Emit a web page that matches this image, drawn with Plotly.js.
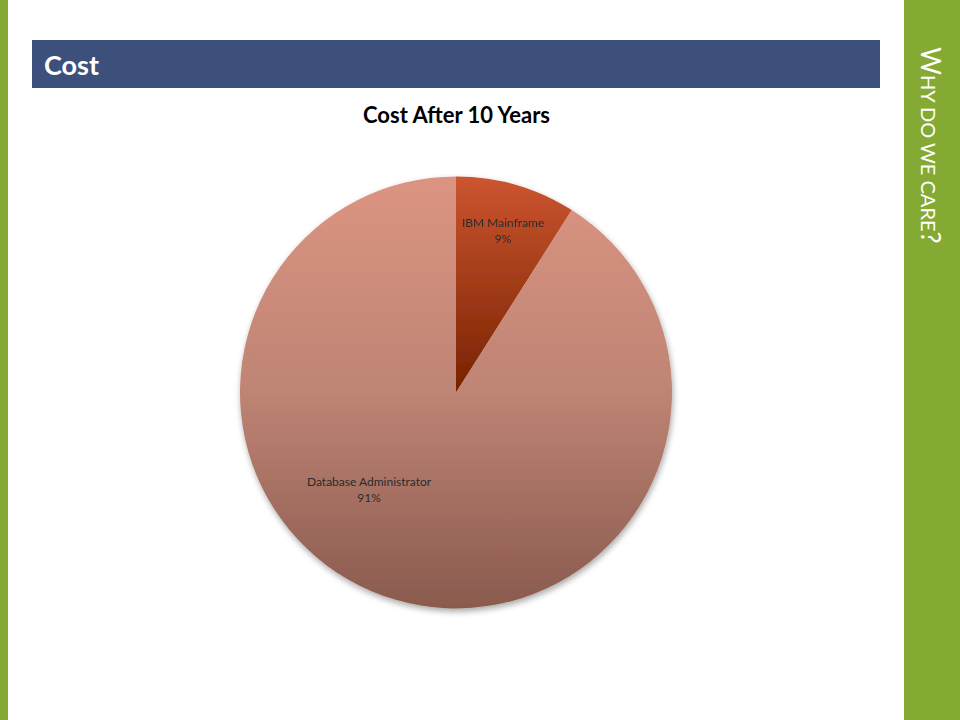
<!DOCTYPE html>
<html>
<head>
<meta charset="utf-8">
<script src="https://cdn.plot.ly/plotly-3.0.1.min.js"></script>
<style>
html,body{margin:0;padding:0;background:#fff;}
#chart{width:960px;height:720px;}
</style>
</head>
<body>
<div id="chart"></div>
<script>
const categories = ["IBM Mainframe", "Database Administrator"];
const costShare = [9, 91];
const sliceColors = ["#A8401C", "#B47A6A"];
const chartTitle = "Cost After 10 Years";
const slideTitle = "Cost";
const sideText = "W<span style='font-size:20px'>HY DO WE CARE</span>?";

const total = costShare.reduce(function(a, b){ return a + b; }, 0);
const labelFont = {family: "Lato, 'Open Sans', sans-serif", size: 12, color: "#2b2b2b"};

const trace = {
  type: "pie",
  labels: categories,
  values: costShare,
  sort: false,
  direction: "clockwise",
  rotation: 0,
  texttemplate: "%{label}<br>%{percent:.0%}",
  textposition: ["inside", "none"],
  insidetextorientation: "horizontal",
  textfont: labelFont,
  marker: {colors: sliceColors, line: {width: 0}},
  domain: {x: [0.25, 0.70], y: [0.155, 0.755]},
  showlegend: false,
  hoverinfo: "none"
};

const layout = {
  width: 960, height: 720,
  margin: {l: 0, r: 0, t: 0, b: 0},
  paper_bgcolor: "#ffffff",
  showlegend: false,
  shapes: [
    {type: "rect", xref: "paper", yref: "paper", x0: 0, x1: 8/960, y0: 0, y1: 1, fillcolor: "#84AA33", line: {width: 0}, layer: "below"},
    {type: "rect", xref: "paper", yref: "paper", x0: 904/960, x1: 1, y0: 0, y1: 1, fillcolor: "#84AA33", line: {width: 0}, layer: "below"},
    {type: "rect", xref: "paper", yref: "paper", x0: 32/960, x1: 880/960, y0: 1 - 88/720, y1: 1 - 40/720, fillcolor: "#3D4F7B", line: {width: 0}, layer: "below"}
  ],
  annotations: [
    {xref: "paper", yref: "paper", x: 42/960, y: 1 - 64/720, xanchor: "left", yanchor: "middle", showarrow: false,
     text: "<b>" + slideTitle + "</b>", font: {family: "Lato, 'Open Sans', sans-serif", size: 27, color: "#ffffff"}},
    {xref: "paper", yref: "paper", x: 456/960, y: 1 - 114/720, xanchor: "center", yanchor: "middle", showarrow: false,
     text: "<b>" + chartTitle + "</b>", font: {family: "Lato, 'Open Sans', sans-serif", size: 22, color: "#000000"}},
    {xref: "paper", yref: "paper", x: 931/960, y: 1 - 145/720, xanchor: "center", yanchor: "middle", showarrow: false,
     textangle: 90, text: sideText, font: {family: "Lato, 'Open Sans', sans-serif", size: 27, color: "#ffffff"}},
    {xref: "paper", yref: "paper", x: 369/960, y: 1 - 489/720, xanchor: "center", yanchor: "middle", showarrow: false,
     text: categories[1] + "<br>" + Math.round(costShare[1] / total * 100) + "%", font: labelFont}
  ]
};

Plotly.newPlot("chart", [trace], layout, {staticPlot: true, displayModeBar: false}).then(function(gd){
  const svg = gd.querySelector("svg.main-svg");
  const NS = "http://www.w3.org/2000/svg";
  let defs = svg.querySelector("defs");
  if (!defs) { defs = document.createElementNS(NS, "defs"); svg.insertBefore(defs, svg.firstChild); }
  const grads = [
    {id: "gSmall", stops: [["0", "#CC5530"], ["1", "#772200"]]},
    {id: "gBig", stops: [["0", "#DC9482"], ["0.5", "#BE8474"], ["1", "#8A5A4E"]]}
  ];
  grads.forEach(function(g){
    const lg = document.createElementNS(NS, "linearGradient");
    lg.setAttribute("id", g.id);
    lg.setAttribute("x1", "0"); lg.setAttribute("y1", "0");
    lg.setAttribute("x2", "0"); lg.setAttribute("y2", "1");
    g.stops.forEach(function(s){
      const st = document.createElementNS(NS, "stop");
      st.setAttribute("offset", s[0]);
      st.setAttribute("stop-color", s[1]);
      lg.appendChild(st);
    });
    defs.appendChild(lg);
  });
  const f = document.createElementNS(NS, "filter");
  f.setAttribute("id", "pieShadow");
  f.setAttribute("x", "-10%"); f.setAttribute("y", "-10%");
  f.setAttribute("width", "130%"); f.setAttribute("height", "130%");
  f.innerHTML = '<feGaussianBlur in="SourceAlpha" stdDeviation="3"/><feOffset dx="1" dy="3" result="ob"/><feComponentTransfer><feFuncA type="linear" slope="0.35"/></feComponentTransfer><feMerge><feMergeNode/><feMergeNode in="SourceGraphic"/></feMerge>';
  defs.appendChild(f);
  const slices = gd.querySelectorAll("g.slice path.surface");
  const ids = ["gSmall", "gBig"];
  slices.forEach(function(p, i){ p.style.fill = "url(#" + ids[i] + ")"; });
  const pieG = gd.querySelector("g.trace");
  if (pieG) pieG.setAttribute("filter", "url(#pieShadow)");
});
</script>
</body>
</html>
